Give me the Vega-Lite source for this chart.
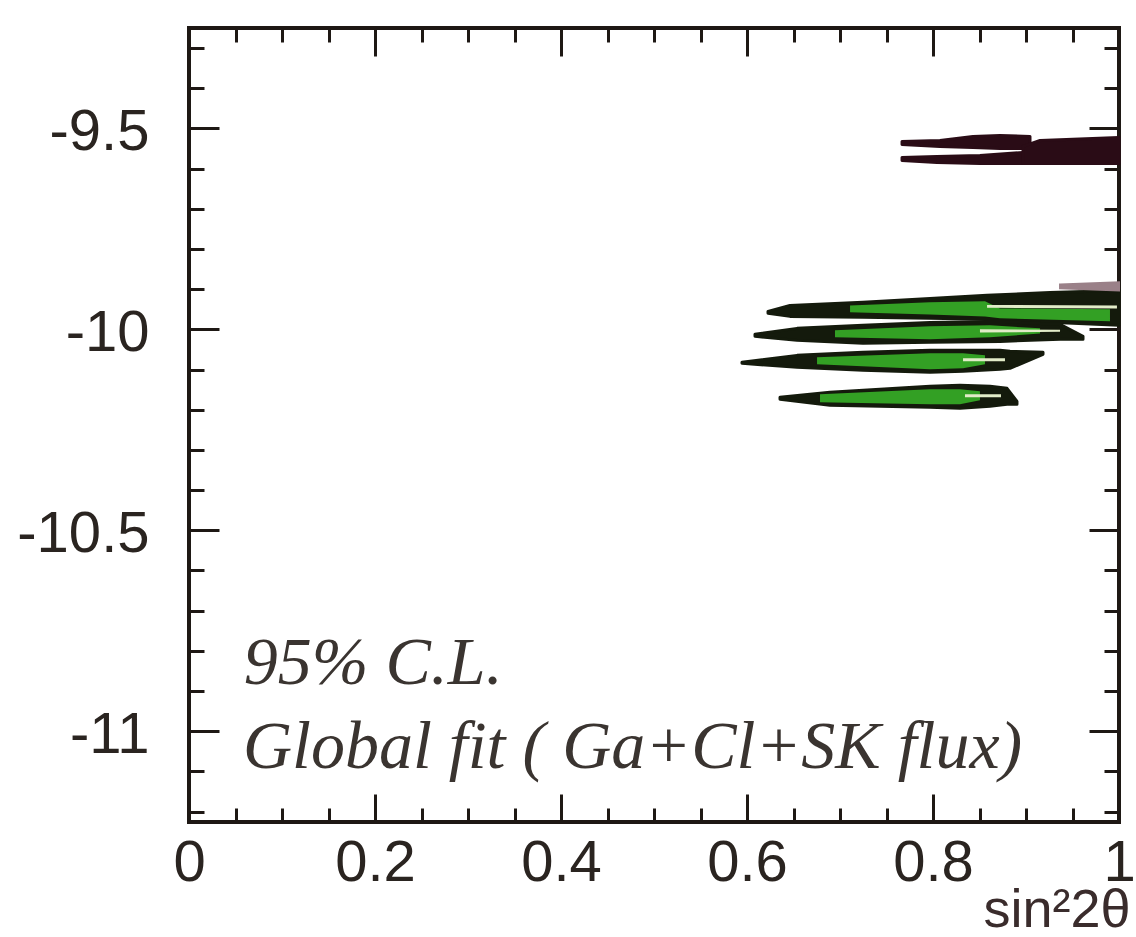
{
  "$schema": "https://vega.github.io/schema/vega-lite/v6.json",
  "width": 930,
  "height": 794,
  "autosize": {"type": "none"},
  "padding": {"left": 189, "top": 28, "right": 17, "bottom": 115},
  "background": "white",
  "config": {
    "view": {"stroke": "#1e1814", "strokeWidth": 4},
    "axis": {"grid": false, "domain": false, "tickColor": "#1e1814", "tickWidth": 3}
  },
  "datasets": {
    "dark": [
      {"b": "A", "x": 0.6226, "t": -9.9552, "u": -9.9602},
      {"b": "A", "x": 0.6462, "t": -9.9403, "u": -9.9677},
      {"b": "A", "x": 0.7247, "t": -9.9328, "u": -9.9701},
      {"b": "A", "x": 0.7968, "t": -9.9229, "u": -9.9726},
      {"b": "A", "x": 0.8581, "t": -9.9154, "u": -9.9751},
      {"b": "A", "x": 0.9258, "t": -9.9080, "u": -9.9826},
      {"b": "A", "x": 1.0, "t": -9.9030, "u": -9.9900},
      {"b": "B", "x": 0.6086, "t": -10.0124, "u": -10.0174},
      {"b": "B", "x": 0.6538, "t": -9.9975, "u": -10.0274},
      {"b": "B", "x": 0.7247, "t": -9.9900, "u": -10.0348},
      {"b": "B", "x": 0.7968, "t": -9.9826, "u": -10.0323},
      {"b": "B", "x": 0.8720, "t": -9.9801, "u": -10.0299},
      {"b": "B", "x": 0.9366, "t": -9.9876, "u": -10.0249},
      {"b": "B", "x": 0.9613, "t": -10.0174, "u": -10.0249},
      {"b": "C", "x": 0.5946, "t": -10.0821, "u": -10.0846},
      {"b": "C", "x": 0.6538, "t": -10.0647, "u": -10.0945},
      {"b": "C", "x": 0.7247, "t": -10.0572, "u": -10.1020},
      {"b": "C", "x": 0.7968, "t": -10.0522, "u": -10.1070},
      {"b": "C", "x": 0.8323, "t": -10.0522, "u": -10.1045},
      {"b": "C", "x": 0.8720, "t": -10.0522, "u": -10.0995},
      {"b": "C", "x": 0.8828, "t": -10.0547, "u": -10.0970},
      {"b": "C", "x": 0.9183, "t": -10.0572, "u": -10.0622},
      {"b": "D", "x": 0.6355, "t": -10.1692, "u": -10.1741},
      {"b": "D", "x": 0.6892, "t": -10.1567, "u": -10.1891},
      {"b": "D", "x": 0.7968, "t": -10.1418, "u": -10.1940},
      {"b": "D", "x": 0.8290, "t": -10.1393, "u": -10.1965},
      {"b": "D", "x": 0.8613, "t": -10.1418, "u": -10.1915},
      {"b": "D", "x": 0.8796, "t": -10.1468, "u": -10.1866},
      {"b": "D", "x": 0.8903, "t": -10.1791, "u": -10.1866}
    ],
    "maroon": [
      {"b": "MU", "x": 0.7667, "t": -9.5323, "u": -9.5398},
      {"b": "MU", "x": 0.8075, "t": -9.5299, "u": -9.5448},
      {"b": "MU", "x": 0.8430, "t": -9.5199, "u": -9.5473},
      {"b": "MU", "x": 0.8720, "t": -9.5174, "u": -9.5498},
      {"b": "MU", "x": 0.9043, "t": -9.5199, "u": -9.5498},
      {"b": "ML", "x": 0.7667, "t": -9.5721, "u": -9.5796},
      {"b": "ML", "x": 0.8043, "t": -9.5697, "u": -9.5846},
      {"b": "ML", "x": 0.8505, "t": -9.5672, "u": -9.5871},
      {"b": "ML", "x": 0.8968, "t": -9.5597, "u": -9.5871},
      {"b": "MB", "x": 0.8968, "t": -9.5448, "u": -9.5871},
      {"b": "MB", "x": 0.9151, "t": -9.5299, "u": -9.5871},
      {"b": "MB", "x": 1.0, "t": -9.5224, "u": -9.5871}
    ],
    "grey": [
      {"b": "MG", "x": 0.9366, "t": -9.8881, "u": -9.8980},
      {"b": "MG", "x": 1.0, "t": -9.8831, "u": -9.9030}
    ],
    "green": [
      {"b": "A", "x": 0.7108, "t": -9.9403, "u": -9.9577},
      {"b": "A", "x": 0.7968, "t": -9.9328, "u": -9.9627},
      {"b": "A", "x": 0.8559, "t": -9.9303, "u": -9.9677},
      {"b": "A", "x": 0.8720, "t": -9.9478, "u": -9.9726},
      {"b": "A", "x": 0.9903, "t": -9.9502, "u": -9.9801},
      {"b": "B", "x": 0.6946, "t": -10.0025, "u": -10.0199},
      {"b": "B", "x": 0.7968, "t": -9.9925, "u": -10.0249},
      {"b": "B", "x": 0.8613, "t": -9.9900, "u": -10.0199},
      {"b": "B", "x": 0.9151, "t": -9.9975, "u": -10.0100},
      {"b": "C", "x": 0.6753, "t": -10.0697, "u": -10.0871},
      {"b": "C", "x": 0.7968, "t": -10.0597, "u": -10.0995},
      {"b": "C", "x": 0.8323, "t": -10.0597, "u": -10.0970},
      {"b": "C", "x": 0.8559, "t": -10.0647, "u": -10.0871},
      {"b": "D", "x": 0.6785, "t": -10.1617, "u": -10.1816},
      {"b": "D", "x": 0.7968, "t": -10.1493, "u": -10.1866},
      {"b": "D", "x": 0.8290, "t": -10.1493, "u": -10.1866},
      {"b": "D", "x": 0.8505, "t": -10.1542, "u": -10.1766}
    ],
    "light": [
      {"b": "L1", "x": 0.8581, "t": -9.9391, "u": -9.9465},
      {"b": "L1", "x": 0.9978, "t": -9.9403, "u": -9.9478},
      {"b": "L3", "x": 0.8505, "t": -9.9998, "u": -10.0075},
      {"b": "L3", "x": 0.9366, "t": -10.0010, "u": -10.0062},
      {"b": "L4", "x": 0.8323, "t": -10.0721, "u": -10.0796},
      {"b": "L4", "x": 0.8774, "t": -10.0721, "u": -10.0796},
      {"b": "L5", "x": 0.8344, "t": -10.1617, "u": -10.1692},
      {"b": "L5", "x": 0.8731, "t": -10.1617, "u": -10.1692}
    ],
    "notes": [
      {"x": 0.059, "y": -10.883, "label": "95% C.L."},
      {"x": 0.058, "y": -11.092, "label": "Global fit ( Ga+Cl+SK flux)"}
    ]
  },
  "resolve": {"axis": {"x": "independent", "y": "independent"}},
  "layer": [
    {
      "data": {"name": "dark"},
      "mark": {"type": "area", "color": "#141a0c", "stroke": "#141a0c", "strokeWidth": 3, "strokeJoin": "round"},
      "encoding": {
        "x": {"field": "x", "type": "quantitative", "scale": {"domain": [0, 1], "nice": false, "zero": false},
              "axis": {"orient": "bottom", "values": [0, 0.2, 0.4, 0.6, 0.8, 1], "tickSize": -28, "labels": false, "title": null}},
        "y": {"field": "t", "type": "quantitative", "scale": {"domain": [-11.226, -9.25], "nice": false, "zero": false},
              "axis": {"orient": "left", "values": [-9.5, -10, -10.5, -11], "tickSize": -30, "labels": false, "title": null}},
        "y2": {"field": "u"},
        "detail": {"field": "b"}
      }
    },
    {
      "data": {"name": "maroon"},
      "mark": {"type": "area", "color": "#2a0c16", "stroke": "#2a0c16", "strokeWidth": 3, "strokeJoin": "round"},
      "encoding": {
        "x": {"field": "x", "type": "quantitative", "scale": {"domain": [0, 1], "nice": false, "zero": false},
              "axis": {"orient": "bottom", "values": [0.05, 0.1, 0.15, 0.25, 0.3, 0.35, 0.45, 0.5, 0.55, 0.65, 0.7, 0.75, 0.85, 0.9, 0.95], "tickSize": -14, "labels": false, "title": null}},
        "y": {"field": "t", "type": "quantitative", "scale": {"domain": [-11.226, -9.25], "nice": false, "zero": false},
              "axis": {"orient": "left", "values": [-9.3, -9.4, -9.6, -9.7, -9.8, -9.9, -10.1, -10.2, -10.3, -10.4, -10.6, -10.7, -10.8, -10.9, -11.1, -11.2], "tickSize": -15, "labels": false, "title": null}},
        "y2": {"field": "u"},
        "detail": {"field": "b"}
      }
    },
    {
      "data": {"name": "grey"},
      "mark": {"type": "area", "color": "#9a8088", "stroke": "#9a8088", "strokeWidth": 2},
      "encoding": {
        "x": {"field": "x", "type": "quantitative", "scale": {"domain": [0, 1], "nice": false, "zero": false}, "axis": null},
        "y": {"field": "t", "type": "quantitative", "scale": {"domain": [-11.226, -9.25], "nice": false, "zero": false}, "axis": null},
        "y2": {"field": "u"},
        "detail": {"field": "b"}
      }
    },
    {
      "data": {"name": "green"},
      "mark": {"type": "area", "color": "#33a024", "strokeJoin": "round"},
      "encoding": {
        "x": {"field": "x", "type": "quantitative", "scale": {"domain": [0, 1], "nice": false, "zero": false},
              "axis": {"orient": "top", "values": [0.2, 0.4, 0.6, 0.8], "tickSize": -28, "labels": false, "title": null}},
        "y": {"field": "t", "type": "quantitative", "scale": {"domain": [-11.226, -9.25], "nice": false, "zero": false},
              "axis": {"orient": "right", "values": [-9.5, -10, -10.5, -11], "tickSize": -30, "labels": false, "title": null}},
        "y2": {"field": "u"},
        "detail": {"field": "b"}
      }
    },
    {
      "data": {"name": "light"},
      "mark": {"type": "area", "color": "#e2ecc8"},
      "encoding": {
        "x": {"field": "x", "type": "quantitative", "scale": {"domain": [0, 1], "nice": false, "zero": false},
              "axis": {"orient": "top", "values": [0.05, 0.1, 0.15, 0.25, 0.3, 0.35, 0.45, 0.5, 0.55, 0.65, 0.7, 0.75, 0.85, 0.9, 0.95], "tickSize": -14, "labels": false, "title": null}},
        "y": {"field": "t", "type": "quantitative", "scale": {"domain": [-11.226, -9.25], "nice": false, "zero": false},
              "axis": {"orient": "right", "values": [-9.3, -9.4, -9.6, -9.7, -9.8, -9.9, -10.1, -10.2, -10.3, -10.4, -10.6, -10.7, -10.8, -10.9, -11.1, -11.2], "tickSize": -15, "labels": false, "title": null}},
        "y2": {"field": "u"},
        "detail": {"field": "b"}
      }
    },
    {
      "data": {"name": "notes"},
      "mark": {"type": "text", "font": "Liberation Serif", "fontStyle": "italic", "fontSize": 68, "color": "#3a3430", "align": "left", "baseline": "alphabetic"},
      "encoding": {
        "x": {"field": "x", "type": "quantitative", "scale": {"domain": [0, 1], "nice": false, "zero": false},
              "axis": {"orient": "bottom", "values": [0, 0.2, 0.4, 0.6, 0.8, 1], "ticks": false, "labelExpr": "'' + datum.value",
                       "labelFont": "Liberation Sans", "labelFontSize": 58, "labelColor": "#2a2420", "labelPadding": 12,
                       "labelBaseline": "top", "labelFlush": false, "labelOverlap": false, "labelBound": false,
                       "title": "sin²2θ", "titleFont": "Liberation Sans", "titleFontSize": 54, "titleFontWeight": "normal",
                       "titleColor": "#3a2c2c", "titleAnchor": "end", "titleAlign": "right", "titleBaseline": "alphabetic",
                       "titleX": 941, "titleY": 104}},
        "y": {"field": "y", "type": "quantitative", "scale": {"domain": [-11.226, -9.25], "nice": false, "zero": false},
              "axis": {"orient": "left", "values": [-9.5, -10, -10.5, -11], "ticks": false, "labelExpr": "'' + datum.value",
                       "labelFont": "Liberation Sans", "labelFontSize": 58, "labelColor": "#2a2420", "labelPadding": 40,
                       "labelBaseline": "middle", "labelOffset": 4, "labelOverlap": false, "labelBound": false, "labelFlush": false, "title": null}},
        "text": {"field": "label"}
      }
    }
  ]
}
